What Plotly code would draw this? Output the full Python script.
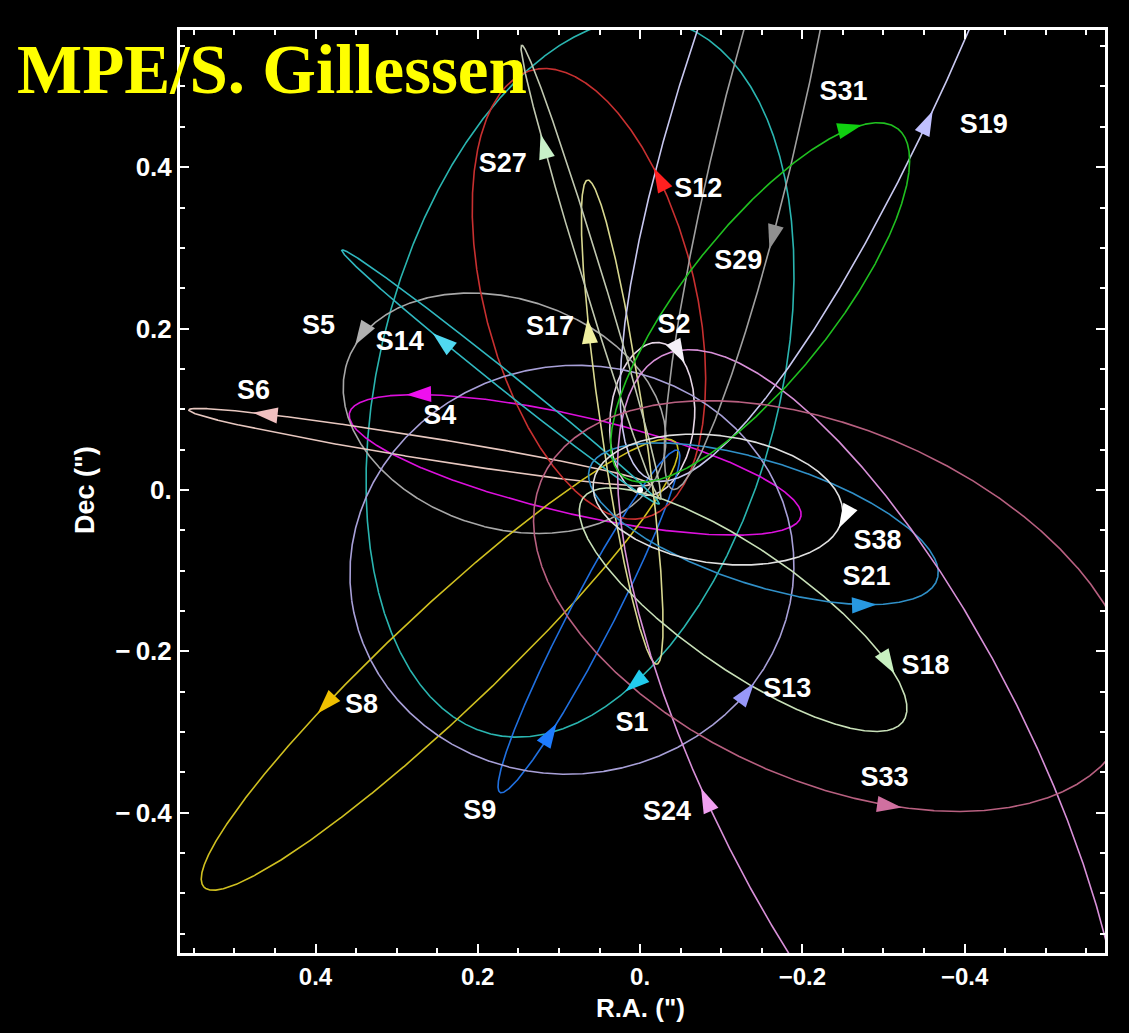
import numpy as np
import plotly.graph_objects as go

# ---------------- data (arcsec) ----------------
STARS = ["S1", "S2", "S4", "S5", "S6", "S8", "S9", "S12", "S13", "S14",
         "S17", "S18", "S19", "S21", "S24", "S27", "S29", "S31", "S33", "S38"]

# projected orbit ellipses: centre, semi-axes, tilt of major axis (deg)
CENTER_RA = [0.074, -0.015, 0.080, 0.167, 0.272, 0.247, 0.063, 0.063, 0.084, 0.172,
             0.022, -0.127, -0.288, -0.152, -0.285, 0.0605, -0.1407, -0.148, -0.238, -0.096]
CENTER_DEC = [0.139, 0.088, 0.031, 0.095, 0.053, -0.2166, -0.163, 0.243, -0.099, 0.140,
              0.084, -0.1485, 0.702, -0.042, -0.351, 0.270, 0.4239, 0.2324, -0.144, -0.012]
SEMI_MAJOR = [0.455, 0.095, 0.2855, 0.204, 0.288, 0.4005, 0.2386, 0.286, 0.274, 0.251,
              0.303, 0.241, 0.742, 0.225, 0.578, 0.294, 0.435, 0.274, 0.392, 0.155]
SEMI_MINOR = [0.247, 0.052, 0.0605, 0.142, 0.0136, 0.0643, 0.0272, 0.130, 0.253, 0.011,
              0.027, 0.074, 0.159, 0.0766, 0.198, 0.0124, 0.049, 0.092, 0.218, 0.079]
TILT_DEG = [-76, -85, 13, 18, 9.2, -43.5, -62.7, -104, -8, 38.8,
            81.9, 35, -68.2, 17.8, 63.5, 73.1, -76.7, -51.8, 23.8, 8]
SENSE = [1, 1, -1, -1, -1, -1, -1, -1, -1, 1,
         1, 1, -1, -1, 1, 1, 1, 1, -1, 1]

LINE_COLORS = ["#2AB5B0", "#E6D6E6", "#DD10DD", "#A8A8A8", "#E8C8C0", "#D0C020", "#2070E0",
               "#C83030", "#A8A0D8", "#30B8C0", "#D8D890", "#C8E0B8", "#C8C8F0", "#3090C8",
               "#D890D8", "#C0C8B0", "#A0A0A0", "#20C020", "#B86080", "#E0E0E0"]
ARROW_COLORS = ["#22CCEE", "#F4F0F8", "#EE10EE", "#B0B0B0", "#F0C0C0", "#F0C000", "#1E7CFF",
                "#FF2020", "#9898F8", "#50D8F0", "#F0F0A0", "#C8F0C0", "#C0C0FF", "#2898E0",
                "#F0A0F0", "#C8F0C8", "#909090", "#10D010", "#D070A0", "#FFFFFF"]

# arrow positions and headings (deg clockwise from up, as seen)
ARROW_RA = [0.0037, -0.0506, 0.274, 0.3556, 0.463, 0.3864, 0.1111, -0.0247, -0.1259, 0.2469,
            0.0654, -0.3037, -0.358, -0.2778, -0.0827, 0.1198, -0.1691, -0.2556, -0.3086, -0.2556]
ARROW_DEC = [-0.245, 0.1708, 0.125, 0.2005, 0.0965, -0.2686, -0.3007, 0.3874, -0.245, 0.1832,
             0.198, -0.2178, 0.4554, -0.1411, -0.3812, 0.427, 0.3094, 0.4616, -0.3911, -0.0359]
ARROW_HEADING = [240, 170, 270, 220, 275, 220, 25, 335, 35, 310,
                 350, 170, 25, 90, 340, 350, 195, 90, 95, 225]

# label positions
LABEL_RA = [0.0099, -0.042, 0.2469, 0.3963, 0.4765, 0.3432, 0.1975, -0.0716, -0.1815, 0.2963,
            0.1111, -0.3519, -0.4235, -0.279, -0.0333, 0.1691, -0.121, -0.2506, -0.3012, -0.2926]
LABEL_DEC = [-0.2908, 0.203, 0.0903, 0.2017, 0.1213, -0.2686, -0.3998, 0.3713, -0.2488, 0.1819,
             0.2005, -0.2203, 0.4505, -0.1089, -0.401, 0.4022, 0.2822, 0.4913, -0.3589, -0.0644]

TICK_VALS = [-0.4, -0.2, 0.0, 0.2, 0.4]
X_TICK_TEXT = ["\u22120.4", "\u22120.2", "0.", "0.2", "0.4"]
Y_TICK_TEXT = ["\u2212\u20090.4", "\u2212\u20090.2", "0.", "0.2", "0.4"]

X_RANGE = [0.567, -0.573]
Y_RANGE = [-0.574, 0.570]

# ---------------- figure ----------------
PX_X = 925 / (X_RANGE[0] - X_RANGE[1])
PX_Y = 923 / (Y_RANGE[1] - Y_RANGE[0])

fig = go.Figure()
t = np.linspace(0, 2 * np.pi, 2881)

arrow_x, arrow_y, arrow_ang, arrow_col = [], [], [], []
for i, name in enumerate(STARS):
    cx, cy, a, b = CENTER_RA[i], CENTER_DEC[i], SEMI_MAJOR[i], SEMI_MINOR[i]
    ph = np.radians(TILT_DEG[i])
    x = cx + a * np.cos(t) * np.cos(ph) - b * np.sin(t) * np.sin(ph)
    y = cy + a * np.cos(t) * np.sin(ph) + b * np.sin(t) * np.cos(ph)
    dx = (-a * np.sin(t) * np.cos(ph) - b * np.cos(t) * np.sin(ph)) * SENSE[i]
    dy = (-a * np.sin(t) * np.sin(ph) + b * np.cos(t) * np.cos(ph)) * SENSE[i]
    fig.add_trace(go.Scatter(x=x, y=y, mode="lines",
                             line=dict(color=LINE_COLORS[i], width=1.6),
                             hoverinfo="skip"))
    # arrow: nearest point on orbit moving in the seen direction
    tx, ty = -dx * PX_X, dy * PX_Y          # screen tangent (right, up)
    h = np.radians(ARROW_HEADING[i])
    ok = tx * np.sin(h) + ty * np.cos(h) > 0
    d2 = ((x - ARROW_RA[i]) * PX_X) ** 2 + ((y - ARROW_DEC[i]) * PX_Y) ** 2
    d2[~ok] = np.inf
    k = int(np.argmin(d2))
    # move the tip a little ahead so the arrow body sits on the read spot
    step = SENSE[i]
    run = 0.0
    n = len(t)
    while run < 11:
        k2 = (k + step) % n
        run += np.hypot((x[k2] - x[k]) * PX_X, (y[k2] - y[k]) * PX_Y)
        k = k2
    arrow_x.append(x[k])
    arrow_y.append(y[k])
    arrow_ang.append(float(np.degrees(np.arctan2(tx[k], ty[k]))))
    arrow_col.append(ARROW_COLORS[i])

fig.add_trace(go.Scatter(x=arrow_x, y=arrow_y, mode="markers",
                         marker=dict(symbol="arrow", size=26, angle=arrow_ang,
                                     color=arrow_col, line=dict(width=0)),
                         hoverinfo="skip"))

# Sgr A*
fig.add_trace(go.Scatter(x=[0.0], y=[0.0], mode="markers",
                         marker=dict(color="white", size=6), hoverinfo="skip"))

fig.add_trace(go.Scatter(x=LABEL_RA, y=LABEL_DEC, mode="text", text=STARS,
                         textfont=dict(family="Liberation Sans", size=27, color="white",
                                       weight="bold"),
                         hoverinfo="skip", cliponaxis=False))

axis_common = dict(
    tickvals=TICK_VALS, ticks="inside", ticklen=9, tickwidth=2,
    tickcolor="white", showline=True, linecolor="white", linewidth=3, mirror="ticks",
    showgrid=False, zeroline=False,
    minor=dict(ticks="inside", ticklen=5, tickwidth=1.5, tickcolor="white",
               dtick=0.05, tick0=0, showgrid=False),
)
fig.update_xaxes(range=X_RANGE, ticktext=X_TICK_TEXT,
                 tickfont=dict(family="Liberation Sans", size=24, color="white", weight="bold"),
                 **axis_common)
fig.update_yaxes(range=Y_RANGE, ticktext=Y_TICK_TEXT,
                 tickfont=dict(family="Liberation Sans", size=26, color="white", weight="bold"),
                 **axis_common)

fig.update_layout(
    width=1129, height=1033,
    margin=dict(l=180, r=24, t=30, b=80),
    paper_bgcolor="black", plot_bgcolor="black", showlegend=False,
    annotations=[
        dict(text="R.A. (\")", xref="paper", yref="paper", x=0.4973, y=-0.0596,
             showarrow=False, xanchor="center", yanchor="middle",
             font=dict(family="Liberation Sans", size=26, color="white", weight="bold")),
        dict(text="Dec (\")", xref="paper", yref="paper", x=-0.1027, y=0.5016,
             showarrow=False, xanchor="center", yanchor="middle", textangle=-90,
             font=dict(family="Liberation Sans", size=27, color="white", weight="bold")),
        dict(text="MPE/S. Gillessen", xref="paper", yref="paper", x=-0.178, y=0.9567,
             showarrow=False, xanchor="left", yanchor="middle",
             font=dict(family="Liberation Serif", size=69, color="#FFFF00", weight="bold")),
    ],
)

fig.write_html(
    "out.html",
    config={"displayModeBar": False},
    post_script="document.body.style.margin='0';document.body.style.backgroundColor='black';",
)
